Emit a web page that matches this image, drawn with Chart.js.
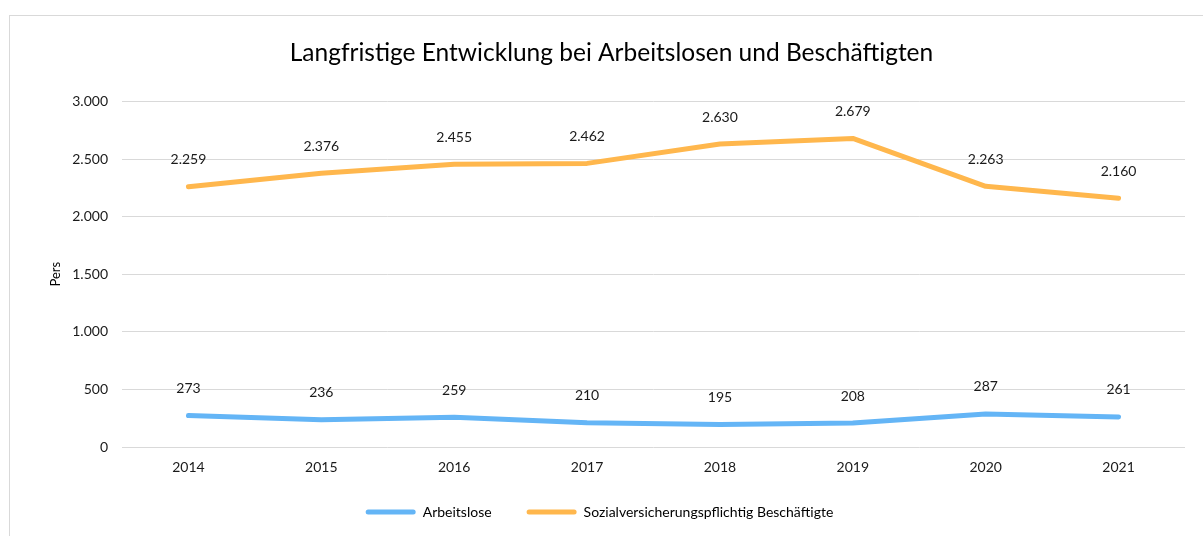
<!DOCTYPE html>
<html><head><meta charset="utf-8">
<script src="https://cdn.jsdelivr.net/npm/chart.js@4/dist/chart.umd.min.js"></script>
<style>
html,body{margin:0;padding:0;background:#fff;overflow:hidden;width:1203px;height:536px;}
#frame{position:absolute;left:9px;top:15px;width:1210px;height:540px;border:1px solid #d9d9d9;box-sizing:border-box;}
#wrap{position:absolute;left:9px;top:15px;width:1204px;height:521px;}
</style></head>
<body>
<div id="frame"></div>
<div id="wrap"><canvas id="c"></canvas></div>
<script>
const years = ['2014','2015','2016','2017','2018','2019','2020','2021'];
const arbeitslose = [273, 236, 259, 210, 195, 208, 287, 261];
const beschaeftigte = [2259, 2376, 2455, 2462, 2630, 2679, 2263, 2160];
const titleText = 'Langfristige Entwicklung bei Arbeitslosen und Beschäftigten';
const yTitle = 'Pers';
const seriesNames = ['Arbeitslose', 'Sozialversicherungspflichtig Beschäftigte'];

const FONT = "Lato, 'Liberation Sans', Arial, sans-serif";
const fmt = v => String(Math.round(v)).replace(/\B(?=(\d{3})+(?!\d))/g, '.');

const labelPlugin = {
  id: 'dlabels',
  afterDatasetsDraw(chart) {
    const ctx = chart.ctx;
    ctx.save();
    ctx.font = '14px ' + FONT;
    ctx.fillStyle = '#1a1a1a';
    ctx.textAlign = 'center';
    ctx.textBaseline = 'middle';
    chart.data.datasets.forEach((ds, i) => {
      chart.getDatasetMeta(i).data.forEach((pt, j) => {
        ctx.fillText(fmt(ds.data[j]), pt.x, pt.y - 27);
      });
    });
    ctx.restore();
  }
};

const shiftPlugin = {
  id: 'shift',
  afterLayout(chart) {
    const l = chart.legend;
    if (l) { l.top -= 5; l.bottom -= 5; l.left -= 15; l.right -= 15; }
    const t = chart.titleBlock;
    if (t) { t.left -= 3; t.right -= 3; }
  }
};

new Chart(document.getElementById('c'), {
  type: 'line',
  data: {
    labels: years,
    datasets: [
      { label: seriesNames[0], data: arbeitslose, borderColor: '#64B5F6', backgroundColor: '#64B5F6',
        borderWidth: 5, pointRadius: 0, borderCapStyle: 'round', borderJoinStyle: 'round', tension: 0 },
      { label: seriesNames[1], data: beschaeftigte, borderColor: '#FFB74D', backgroundColor: '#FFB74D',
        borderWidth: 5, pointRadius: 0, borderCapStyle: 'round', borderJoinStyle: 'round', tension: 0 }
    ]
  },
  options: {
    responsive: true,
    maintainAspectRatio: false,
    animation: false,
    layout: { padding: { left: 35, right: 28, top: 0, bottom: 2 } },
    plugins: {
      title: { display: true, text: titleText, color: '#000', font: { family: FONT, size: 24.5, weight: 'normal' },
               padding: { top: 23, bottom: 34 } },
      legend: { position: 'bottom',
        labels: { color: '#000', font: { family: FONT, size: 14 }, boxWidth: 50, boxHeight: 5, padding: 35,
          generateLabels(chart) {
            return chart.data.datasets.map((ds, i) => ({
              text: ds.label, fillStyle: ds.borderColor, strokeStyle: ds.borderColor, lineWidth: 0,
              hidden: false, datasetIndex: i, borderRadius: 2.5, fontColor: '#000'
            }));
          } } },
      tooltip: { enabled: false }
    },
    scales: {
      x: {
        offset: true,
        afterFit(s) { s.height = 28; },
        grid: { display: false, drawTicks: false },
        border: { display: false },
        ticks: { color: '#1a1a1a', font: { family: FONT, size: 14 }, padding: 12 }
      },
      y: {
        min: 0, max: 3000,
        afterFit(s) { s.width = 78; },
        grid: { color: '#d9d9d9', lineWidth: 1, drawTicks: false },
        border: { display: false },
        ticks: { stepSize: 500, color: '#1a1a1a', font: { family: FONT, size: 14 }, padding: 14,
                 callback: v => fmt(v) },
        title: { display: true, text: yTitle, color: '#000', font: { family: FONT, size: 13 } }
      }
    }
  },
  plugins: [labelPlugin, shiftPlugin]
});
</script>
</body></html>
